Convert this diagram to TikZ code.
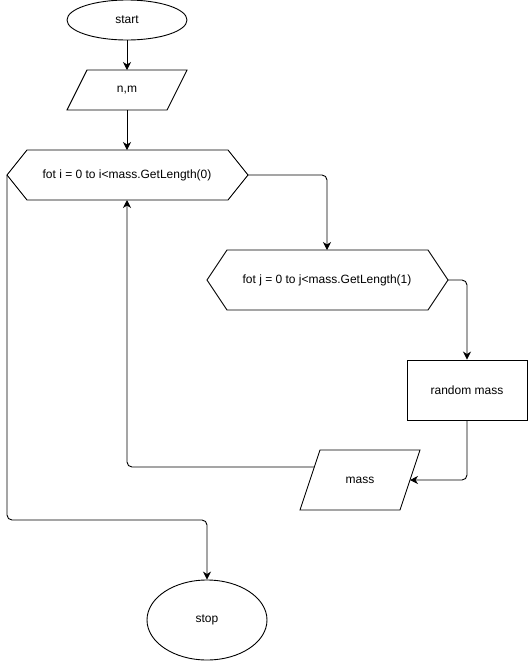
\documentclass[tikz,border=0pt]{standalone}
\usepackage{fontspec}
\setmainfont{Liberation Sans}
\usetikzlibrary{shapes.geometric,arrows.meta}
\begin{document}
\begin{tikzpicture}[x=1pt,y=-1pt,line width=0.9pt,
  txt/.style={font=\fontsize{12}{14}\selectfont,inner sep=0pt},
  flow/.style={draw,rounded corners=5pt,-{Stealth[length=8pt,width=8pt,inset=2.5pt]}},
  term/.style={ellipse,draw,inner sep=0pt,font=\fontsize{12}{14}\selectfont}]
\useasboundingbox (0,0) rectangle (528,662);
% start
\node[term,minimum width=120pt,minimum height=40pt] (start) at (127,20) {start};
% n,m parallelogram
\draw (87,70) -- (187,70) -- (167,110) -- (67,110) -- cycle;
\node[txt] (nm) at (127,90) {n,m};
\coordinate (nmtop) at (127,70);
\coordinate (nmbot) at (127,110);
% hexagon 1
\draw (7,175) -- (27,150) -- (228,150) -- (248,175) -- (228,200) -- (27,200) -- cycle;
\node[txt] (h1) at (127,175) {fot i = 0 to i<mass.GetLength(0)};
\coordinate (h1top) at (127,150);
\coordinate (h1bot) at (127,200);
\coordinate (h1left) at (7,175);
\coordinate (h1right) at (248,175);
% hexagon 2
\draw (207,280) -- (227,250) -- (428,250) -- (448,280) -- (428,310) -- (227,310) -- cycle;
\node[txt] (h2) at (327,280) {fot j = 0 to j<mass.GetLength(1)};
\coordinate (h2top) at (327,250);
\coordinate (h2right) at (448,280);
% random mass
\node[draw,minimum width=120pt,minimum height=60pt,inner sep=0pt,font=\fontsize{12}{14}\selectfont] (rand) at (467,390) {random mass};
% mass parallelogram
\draw (320,450) -- (420,450) -- (400,510) -- (300,510) -- cycle;
\node[txt] (mass) at (360,480) {mass};
\coordinate (mright) at (410,480);
\coordinate (mleft) at (314,467);
% stop
\node[term,minimum width=120pt,minimum height=80pt] (stop) at (207,620) {stop};
\coordinate (join) at (207,520);
% connectors
\draw[flow] (start.south) -- (nmtop);
\draw[flow] (nmbot) -- (h1top);
\draw[flow] (h1right) -| (h2top);
\draw[flow] (h2right) -| (rand.north);
\draw[flow] (rand.south) |- (mright);
\draw[flow] (mleft) -| (h1bot);
\draw[flow] (h1left) |- (join) -- (stop.north);
\end{tikzpicture}
\end{document}
